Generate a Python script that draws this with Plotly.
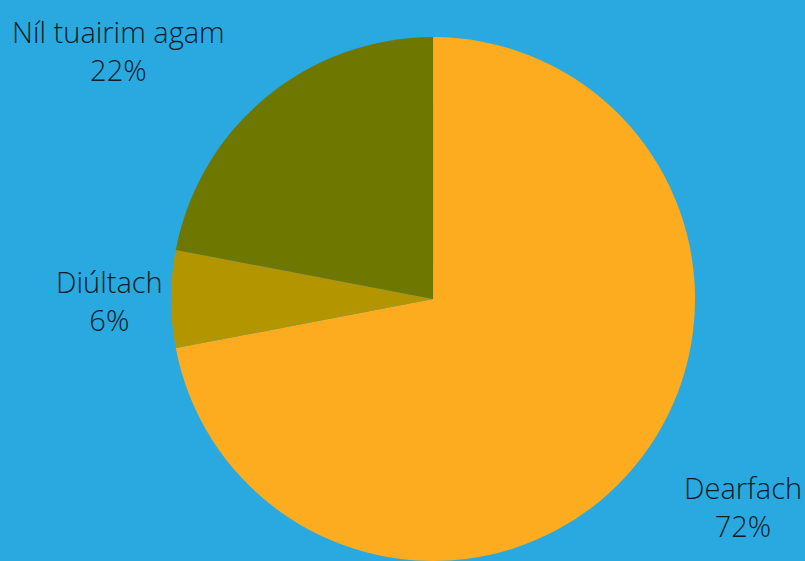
import math
import plotly.graph_objects as go

labels = ["Dearfach", "Diúltach", "Níl tuairim agam"]
values = [72, 6, 22]
colors = ["#FCAC1E", "#B39500", "#6E7800"]
label_anchor = ["left", "center", "right"]

W, H = 805, 561
BG = "#2AA9E0"
TXT = "#0E1C27"
FONT = "Open Sans"
FS = 29

dom_x = [0.165, 0.911]
dom_y = [0.0, 0.934]

fig = go.Figure(go.Pie(
    labels=labels, values=values, sort=False, direction="clockwise", rotation=0,
    marker=dict(colors=colors, line=dict(width=0)),
    textinfo="none", hoverinfo="label+percent", showlegend=False,
    domain=dict(x=dom_x, y=dom_y),
))

# pie geometry in pixels
dw = (dom_x[1] - dom_x[0]) * W
dh = (dom_y[1] - dom_y[0]) * H
R = min(dw, dh) / 2
cx = (dom_x[0] + dom_x[1]) / 2 * W
cy = H - (dom_y[0] + dom_y[1]) / 2 * H
rl = R * 1.235

total = sum(values)
cum = 0
annotations = []
font = dict(family=FONT, size=FS, color=TXT, weight=300)
for lab, v, anc in zip(labels, values, label_anchor):
    mid = (cum + v / 2) / total * 2 * math.pi
    cum += v
    px = cx + rl * math.sin(mid)
    py = cy - rl * math.cos(mid)
    pct = f"{round(v / total * 100)}%"
    annotations.append(dict(
        text=f"{lab}<br>{pct}", xref="paper", yref="paper",
        x=px / W, y=1 - py / H, showarrow=False,
        xanchor=anc, yanchor="middle", align="center", yshift=-1, font=font))

fig.update_layout(
    width=W, height=H,
    margin=dict(l=0, r=0, t=0, b=0),
    paper_bgcolor=BG, plot_bgcolor=BG,
    annotations=annotations,
)

fig.write_html("out.html", config={"displayModeBar": False},
               post_script="document.body.style.margin='0px';")
